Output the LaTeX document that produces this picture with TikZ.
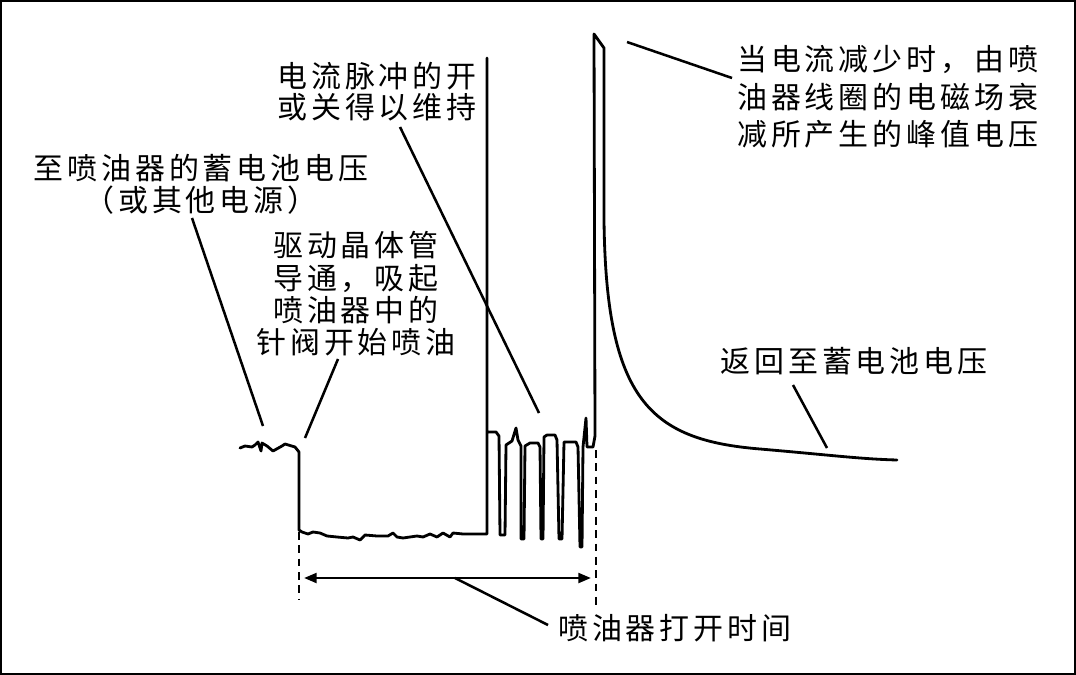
\documentclass[tikz,border=0pt]{standalone}
\usepackage{fontspec}
\newfontfamily\cjk[LetterSpace=13]{Noto Sans CJK SC}
\usetikzlibrary{arrows.meta, calc}

\begin{document}
\begin{tikzpicture}[
    x=0.025cm, y=-0.025cm,
    lbl/.style={font=\cjk\fontsize{21.3}{#1}\selectfont, inner sep=0pt, align=center},
    lbl/.default=22.8,
    wave/.style={line width=2pt, line join=round, line cap=round},
    lead/.style={line width=1.8pt},
    guide/.style={dash pattern=on 5.5pt off 4pt, line width=1.6pt},
    dim/.style={{Triangle[length=9pt,width=7pt]}-{Triangle[length=9pt,width=7pt]}, line width=1.8pt}
]
\useasboundingbox (0,0) rectangle (1076,675);
\draw[line width=1.4pt] (1,1) rectangle (1075,674);

% battery level, injector on
\draw[wave] (240,448) -- (245,446) -- (252,447) -- (255,445) -- (258,442) -- (261,451)
  -- (262,443) -- (267,446) -- (273,451) -- (282,446) -- (285,444) -- (295,447)
  -- (299,452) -- (299,530) -- (302,532) -- (308,534) -- (313,532) -- (320,533)
  -- (327,536) -- (337,537) -- (348,538) -- (353,537) -- (360,540) -- (365,535)
  -- (377,536) -- (388,536) -- (393,533) -- (397,537) -- (403,538) -- (417,536)
  -- (423,537) -- (430,534) -- (437,537) -- (443,533) -- (450,537) -- (453,533)
  -- (463,534) -- (487,534)
% hold pulses
  -- (487,58) -- (487,432) -- (496,432) -- (499,436) -- (500,535) -- (505,535)
  -- (506,445) -- (512,441) -- (516,428) -- (518,440) -- (521,446) -- (521,539)
  -- (524,539) -- (525,446) -- (530,443) -- (538,443) -- (540,447) -- (541,539)
  -- (543,539) -- (544,437) -- (547,435) -- (555,435) -- (557,440) -- (559,539)
  -- (562,539) -- (564,442) -- (576,442) -- (578,447) -- (580,547) -- (582,547)
  -- (583,447) -- (586,418) -- (587,447) -- (593,447) -- (595,436)
% peak and decay
  -- (594,34) -- (604,48) -- (604,220)
  .. controls (606,400) and (650,440) .. (760,449)
  .. controls (830,455) and (860,459) .. (897,460);

% open time
\coordinate (on-low) at (299,532);
\coordinate (on-foot) at (299,600);
\coordinate (off-low) at (596,450);
\coordinate (off-foot) at (596,605);
\coordinate (span-l) at (304,578);
\coordinate (span-r) at (591,578);
\draw[guide] (on-low) -- (on-foot);
\draw[guide] (off-low) -- (off-foot);
\draw[dim] (span-l) -- coordinate[pos=0.526] (span-mid) (span-r);

% labels
\node[lbl=22.8] (batt) at (201,184) {至喷油器的蓄电池电压\\（或其他电源）};
\node[lbl=23] (drive) at (356,294) {驱动晶体管\\导通，吸起\\喷油器中的\\针阀开始喷油};
\node[lbl=22] (pulse) at (377,92) {电流脉冲的开\\或关得以维持};
\node[lbl=26.7, align=left, anchor=west] (peak) at (737,97) {当电流减少时，由喷\\油器线圈的电磁场衰\\减所产生的峰值电压};
\node[lbl] (ret) at (854,361) {返回至蓄电池电压};
\node[lbl, anchor=west] (open) at (558,628) {喷油器打开时间};

% leaders
\coordinate (batt-a) at (192,218);
\coordinate (batt-b) at (263,426);
\coordinate (drive-a) at (338,359);
\coordinate (drive-b) at (305,438);
\coordinate (pulse-a) at (400,127);
\coordinate (pulse-b) at (539,413);
\coordinate (peak-a) at (627,42);
\coordinate (peak-b) at (732,78);
\coordinate (ret-a) at (793,385);
\coordinate (ret-b) at (827,448);
\coordinate (open-b) at (548,625);
\draw[lead] (batt-a) -- (batt-b);
\draw[lead] (drive-a) -- (drive-b);
\draw[lead] (pulse-a) -- (pulse-b);
\draw[lead] (peak-a) -- (peak-b);
\draw[lead] (ret-a) -- (ret-b);
\draw[lead] (span-mid) -- (open-b);

\end{tikzpicture}
\end{document}
